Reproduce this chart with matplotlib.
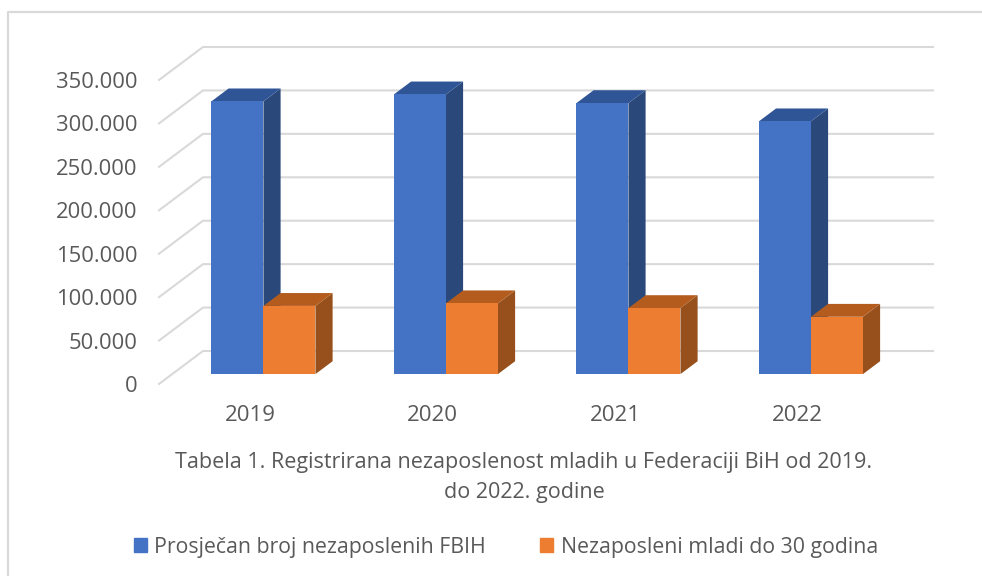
import matplotlib.pyplot as plt
from matplotlib.lines import Line2D
from matplotlib.patches import Patch
from matplotlib.ticker import FuncFormatter

years = ['2019', '2020', '2021', '2022']
total = [314000, 322000, 312000, 291000]
youth = [78500, 81500, 76000, 66000]
series_names = ['Prosječan broj nezaposlenih FBIH', 'Nezaposleni mladi do 30 godina']
yticks = [0, 50000, 100000, 150000, 200000, 250000, 300000, 350000]
caption = 'Tabela 1. Registrirana nezaposlenost mladih u Federaciji BiH od 2019.\ndo 2022. godine'

W, H = 982, 576
TEXT = '#595959'
GRID = '#d9d9d9'

# fake 3d: wall depth in data units
DX, DY = 0.241, 38000
BAR_W = 0.285
BAR_START = 0.3
BAR_DEPTH = 0.39

plt.rcParams['font.family'] = ['Open Sans', 'DejaVu Sans']

fig = plt.figure(figsize=(W / 100, H / 100), dpi=100, facecolor='white')
ax = fig.add_axes([159 / W, 1 - 384 / H, 730 / W, 304 / H])
ax.set_xlim(-0.5, 3.5)
ax.set_ylim(0, 350000)
for s in ax.spines.values():
    s.set_visible(False)

# back wall and side wall lines
for v in yticks:
    ax.plot([-0.5, -0.5 + DX, 3.5 + DX], [v, v + DY, v + DY], color=GRID, lw=1.5,
            clip_on=False, zorder=1)


def bar3d(x0, v, front, side, top):
    x1 = x0 + BAR_W
    ox, oy = BAR_START * DX, BAR_START * DY
    dx, dy = BAR_DEPTH * DX, BAR_DEPTH * DY
    ax.fill([x1 + ox, x1 + ox + dx, x1 + ox + dx, x1 + ox],
            [oy, oy + dy, oy + dy + v, oy + v], color=side, lw=0, clip_on=False, zorder=2)
    ax.fill([x0 + ox, x1 + ox, x1 + ox + dx, x0 + ox + dx],
            [oy + v, oy + v, oy + v + dy, oy + v + dy], color=top, lw=0, clip_on=False, zorder=2)
    ax.fill([x0 + ox, x1 + ox, x1 + ox, x0 + ox],
            [oy, oy, oy + v, oy + v], color=front, lw=0, clip_on=False, zorder=2)


for i in range(len(years)):
    bar3d(i - BAR_W, total[i], '#4472c4', '#2a4879', '#2f5597')
    bar3d(i, youth[i], '#ed7d31', '#97501b', '#b35c1e')

ax.set_xticks(range(len(years)), years)
ax.set_yticks(yticks)
ax.yaxis.set_major_formatter(FuncFormatter(lambda v, p: f'{int(v):,}'.replace(',', '.')))
ax.tick_params(axis='x', length=0, pad=15, labelsize=16, labelcolor=TEXT)
ax.tick_params(axis='y', length=0, pad=15.5, labelsize=15.8, labelcolor=TEXT)

ax.set_xlabel(caption, fontsize=15.5, color=TEXT, labelpad=19, linespacing=1.54)

handles = [Patch(color='#4472c4', label=series_names[0]),
           Patch(color='#ed7d31', label=series_names[1])]
fig.legend(handles=handles, ncol=2, frameon=False, fontsize=15.3, labelcolor=TEXT,
           loc='center', bbox_to_anchor=(506 / W, 1 - 547 / H),
           handlelength=0.6, handleheight=0.6, handletextpad=0.37, columnspacing=2.55)

# chart frame, only top and left are visible in the crop
fig.add_artist(Line2D([8 / W, 8 / W, 1], [0, 1 - 12 / H, 1 - 12 / H], color=GRID, lw=1.6))

fig.savefig('out.png', dpi=100)
